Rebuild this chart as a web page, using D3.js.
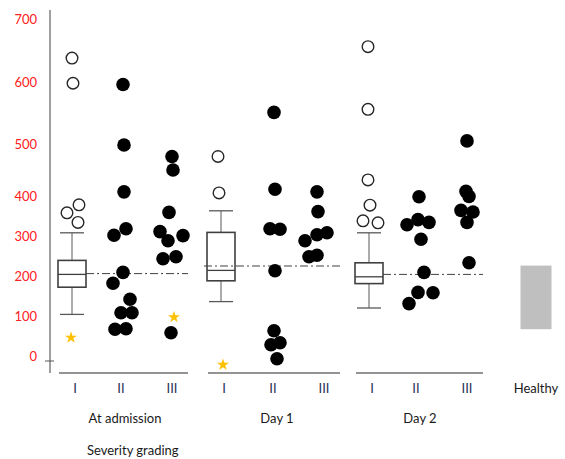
<!DOCTYPE html>
<html>
<head>
  <style>
  body { margin: 0; background: #fff; }
  text { font-family: Lato, "Liberation Sans", sans-serif; }
  </style>
  <script src="https://cdn.jsdelivr.net/npm/d3@7"></script>
</head>
<body>
  <script>
  // categories: 3 time points x 3 severity grades, plus healthy controls
  var timePoints = ["At admission", "Day 1", "Day 2"];
  var grades = ["I", "II", "III"];
  var categories = ["A-I", "A-II", "A-III", "D1-I", "D1-II", "D1-III", "D2-I", "D2-II", "D2-III", "Healthy"];
  var yTicks = [0, 100, 200, 300, 400, 500, 600, 700];

  // grade I: box plots (low whisker, q1, median, q3, high whisker)
  var boxLow  = [104, 136, 120];
  var boxQ1   = [172, 188, 181];
  var boxMed  = [204, 214, 198];
  var boxQ3   = [239, 309, 233];
  var boxHigh = [308, 363, 308];

  // grade I outliers (open circles)
  var admOutliers  = [638, 598, 358, 378, 334];
  var day1Outliers = [476, 406];
  var day2Outliers = [656, 556, 431, 377, 338, 333];

  // grades II and III (filled dots)
  var admII  = [596, 498, 408, 318, 302, 209, 182, 142, 108, 108, 67, 68];
  var admIII = [476, 450, 359, 311, 301, 288, 243, 248, 58];
  var day1II  = [551, 413, 318, 317, 213, 63, 28, 33, -7];
  var day1III = [408, 361, 288, 303, 308, 248, 252];
  var day2II  = [398, 328, 341, 334, 292, 209, 159, 158, 131];
  var day2III = [505, 409, 399, 364, 360, 334, 233];

  // stars
  var starCats   = ["A-I", "A-III", "D1-I"];
  var starValues = [46, 97, -22];

  // dash-dot reference line per time point
  var refValues = [206, 225, 204];

  // healthy reference range
  var healthyRange = [67, 226];

  // horizontal spread of the dots within a column (px)
  var admOutJit  = [-3, -2, -8, 4, 3];
  var day1OutJit = [-6, -5];
  var day2OutJit = [-4, -4, -4, -2, -9, 6];
  var admIIJit   = [2, 3, 3, 5, -7, 2, -8, 9, 0, 11, -6, 5];
  var admIIIJit  = [0, 1, -3, -12, 11, -4, -9, 4, -1];
  var day1IIJit  = [1, 2, -3, 7, 2, 1, -2, 7, 4];
  var day1IIIJit = [-7, -6, -19, -7, 3, -15, -7];
  var day2IIJit  = [3, -9, 2, 13, 5, 8, 2, 17, -7];
  var day2IIIJit = [0, -1, 2, -6, 6, 0, 2];
  var starJit    = [-4, 2, -1];

  var width = 565, height = 459;

  var svg = d3.select("body").append("svg")
      .attr("width", width)
      .attr("height", height);

  var x = d3.scaleOrdinal()
      .domain(categories)
      .range([75, 121, 172, 224, 273, 324, 372, 416, 467, 536]);

  // hand-drawn axis: the label spacing is not even
  var y = d3.scaleLinear()
      .domain(yTicks)
      .range([356, 316, 276, 236, 196, 144, 82, 19]);

  // y axis
  svg.append("line")
      .attr("x1", 50).attr("x2", 50)
      .attr("y1", 10).attr("y2", 373)
      .attr("stroke", "#7f7f7f")
      .attr("stroke-width", 1.5);
  svg.append("line")
      .attr("x1", 45).attr("x2", 54)
      .attr("y1", 361).attr("y2", 361)
      .attr("stroke", "#595959");

  var yAxis = svg.append("g")
      .attr("transform", "translate(50,0)")
      .call(d3.axisLeft(y).tickValues(yTicks).tickSize(0).tickPadding(13));
  yAxis.select(".domain").remove();
  yAxis.selectAll("text")
      .attr("fill", "#ff2020")
      .attr("font-size", 13)
      .style("font-family", "Lato, 'Liberation Sans', sans-serif");

  // baselines under each time point
  timePoints.forEach(function(t, i) {
    svg.append("line")
        .attr("x1", x(categories[i * 3]) - 16)
        .attr("x2", x(categories[i * 3 + 2]) + 16)
        .attr("y1", 373).attr("y2", 373)
        .attr("stroke", "#6f6f6f")
        .attr("stroke-width", 1.3);
  });

  // box plots
  var boxW = 28, boxShift = -3;
  timePoints.forEach(function(t, i) {
    var cx = x(categories[i * 3]) + boxShift;
    var g = svg.append("g");
    g.append("line")
        .attr("x1", cx).attr("x2", cx)
        .attr("y1", y(boxHigh[i])).attr("y2", y(boxLow[i]))
        .attr("stroke", "#595959");
    [boxHigh[i], boxLow[i]].forEach(function(v) {
      g.append("line")
          .attr("x1", cx - 12).attr("x2", cx + 12)
          .attr("y1", y(v)).attr("y2", y(v))
          .attr("stroke", "#595959")
          .attr("stroke-width", 1.3);
    });
    g.append("rect")
        .attr("x", cx - boxW / 2)
        .attr("y", y(boxQ3[i]))
        .attr("width", boxW)
        .attr("height", y(boxQ1[i]) - y(boxQ3[i]))
        .attr("fill", "#fff")
        .attr("stroke", "#404040")
        .attr("stroke-width", 1.6);
    g.append("line")
        .attr("x1", cx - boxW / 2).attr("x2", cx + boxW / 2)
        .attr("y1", y(boxMed[i])).attr("y2", y(boxMed[i]))
        .attr("stroke", "#404040")
        .attr("stroke-width", 1.3);
  });

  // dash-dot reference lines
  timePoints.forEach(function(t, i) {
    var cx = x(categories[i * 3]) + boxShift;
    var start = i === 1 ? cx - boxW / 2 - 3 : cx + boxW / 2;
    svg.append("line")
        .attr("x1", start)
        .attr("x2", x(categories[i * 3 + 2]) + 16)
        .attr("y1", y(refValues[i])).attr("y2", y(refValues[i]))
        .attr("stroke", "#404040")
        .attr("stroke-width", 1)
        .attr("stroke-dasharray", "8,3,2,3");
  });

  // open circles
  var outliers = [
    {cat: "A-I", values: admOutliers, jit: admOutJit},
    {cat: "D1-I", values: day1Outliers, jit: day1OutJit},
    {cat: "D2-I", values: day2Outliers, jit: day2OutJit}
  ];
  outliers.forEach(function(s) {
    svg.append("g").selectAll("circle")
        .data(s.values)
        .enter().append("circle")
        .attr("cx", function(d, i) { return x(s.cat) + s.jit[i]; })
        .attr("cy", function(d) { return y(d); })
        .attr("r", 5.8)
        .attr("fill", "#fff")
        .attr("stroke", "#262626")
        .attr("stroke-width", 1.4);
  });

  // filled dots
  var dots = [
    {cat: "A-II", values: admII, jit: admIIJit},
    {cat: "A-III", values: admIII, jit: admIIIJit},
    {cat: "D1-II", values: day1II, jit: day1IIJit},
    {cat: "D1-III", values: day1III, jit: day1IIIJit},
    {cat: "D2-II", values: day2II, jit: day2IIJit},
    {cat: "D2-III", values: day2III, jit: day2IIIJit}
  ];
  dots.forEach(function(s) {
    svg.append("g").selectAll("circle")
        .data(s.values)
        .enter().append("circle")
        .attr("cx", function(d, i) { return x(s.cat) + s.jit[i]; })
        .attr("cy", function(d) { return y(d); })
        .attr("r", 6.8)
        .attr("fill", "#000");
  });

  // stars
  svg.append("g").selectAll("path")
      .data(starValues)
      .enter().append("path")
      .attr("d", d3.symbol().type(d3.symbolStar).size(45))
      .attr("transform", function(d, i) {
        return "translate(" + (x(starCats[i]) + starJit[i]) + "," + y(d) + ")";
      })
      .attr("fill", "#ffc000");

  // healthy range
  svg.append("rect")
      .attr("x", x("Healthy") - 15.5)
      .attr("y", y(healthyRange[1]))
      .attr("width", 31)
      .attr("height", y(healthyRange[0]) - y(healthyRange[1]))
      .attr("fill", "#bfbfbf");

  // x labels
  svg.append("g").selectAll("text")
      .data(categories)
      .enter().append("text")
      .attr("x", function(d) { return x(d); })
      .attr("y", 388)
      .attr("dy", "0.35em")
      .attr("text-anchor", "middle")
      .attr("font-size", 13)
      .attr("fill", function(d) { return d === "Healthy" ? "#1a1a1a" : "#1f2f55"; })
      .text(function(d) { return d === "Healthy" ? d : grades[categories.indexOf(d) % 3]; });

  svg.append("g").selectAll("text")
      .data(timePoints)
      .enter().append("text")
      .attr("x", function(d, i) { return x(categories[i * 3 + 1]) + 4; })
      .attr("y", 418)
      .attr("dy", "0.35em")
      .attr("text-anchor", "middle")
      .attr("font-size", 13)
      .attr("fill", "#1a1a1a")
      .text(function(d) { return d; });

  svg.append("text")
      .attr("x", 87)
      .attr("y", 450)
      .attr("dy", "0.35em")
      .attr("font-size", 13)
      .attr("fill", "#1a1a1a")
      .text("Severity grading");
  </script>
</body>
</html>
